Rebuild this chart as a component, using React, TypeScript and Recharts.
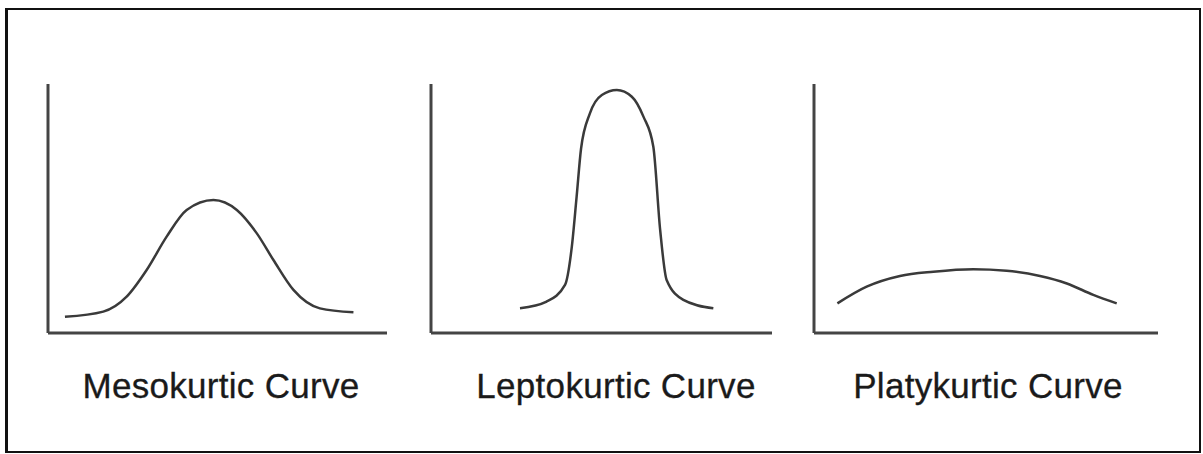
import React from "react";
import { LineChart, Line, XAxis, YAxis } from "recharts";

// curve points, x and y in 0..100 of each plot box
const mesoX = [5.0, 16.3, 23.2, 29.1, 35.0, 40.9, 48.8, 55.7, 61.6, 66.5, 72.4, 80.2, 90.1];
const mesoY = [6.5, 8.6, 14.6, 25.3, 38.7, 49.4, 53.4, 49.4, 40.0, 29.3, 17.3, 9.9, 8.3];

const leptoX = [26.1, 33.9, 39.3, 41.3, 42.7, 44.0, 46.6, 50.1, 54.5, 58.9, 62.3, 65.2, 67.2, 69.1, 74.0, 82.8];
const leptoY = [9.9, 12.6, 19.3, 34.7, 54.7, 74.0, 88.2, 95.6, 97.6, 94.9, 86.9, 74.8, 41.4, 21.3, 13.3, 9.9];

const platyX = [6.8, 15.3, 25.0, 34.7, 46.3, 56.0, 65.7, 73.5, 81.2, 88.0];
const platyY = [11.9, 18.6, 22.9, 24.6, 25.6, 25.0, 22.9, 19.9, 15.3, 11.9];

const labels = ["Mesokurtic Curve", "Leptokurtic Curve", "Platykurtic Curve"];

const toRows = (xs: number[], ys: number[]) => xs.map((x, i) => ({ x, y: ys[i] }));

const panels = [
  { rows: toRows(mesoX, mesoY), left: 48, right: 387, labelX: 221 },
  { rows: toRows(leptoX, leptoY), left: 431, right: 772, labelX: 616 },
  { rows: toRows(platyX, platyY), left: 814, right: 1158, labelX: 988 },
];

const PAD = 5;
const TOP = 84;
const BOTTOM = 333;
const axisStyle = { stroke: "#444", strokeWidth: 3 };

const Panel = ({ rows, left, right }: { rows: { x: number; y: number }[]; left: number; right: number }) => (
  <div style={{ position: "absolute", left: left - PAD, top: TOP - PAD }}>
    <LineChart
      width={right - left + PAD * 2}
      height={BOTTOM - TOP + PAD * 2}
      data={rows}
      margin={{ top: PAD, right: PAD, bottom: PAD - 1, left: PAD - 1 }}
    >
      <XAxis dataKey="x" type="number" domain={[0, 100]} height={1} tick={false} tickLine={false} axisLine={axisStyle} />
      <YAxis type="number" domain={[0, 100]} width={1} tick={false} tickLine={false} axisLine={axisStyle} />
      <Line
        dataKey="y"
        type="monotone"
        stroke="#3a3a3a"
        strokeWidth={2.5}
        dot={false}
        isAnimationActive={false}
      />
    </LineChart>
  </div>
);

export default function App() {
  return (
    <div style={{ position: "absolute", left: 0, top: 0, width: 1203, height: 454, background: "#fff" }}>
      <div
        style={{
          position: "absolute",
          left: 5,
          top: 8,
          width: 1196,
          height: 445,
          boxSizing: "border-box",
          border: "2px solid #111",
          borderLeft: "3px solid #111",
        }}
      />
      {panels.map((p, i) => (
        <Panel key={i} rows={p.rows} left={p.left} right={p.right} />
      ))}
      {panels.map((p, i) => (
        <div
          key={"l" + i}
          style={{
            position: "absolute",
            left: p.labelX - 200,
            width: 400,
            top: 369,
            textAlign: "center",
            fontFamily: "'Liberation Sans', Arial, sans-serif",
            fontSize: 35,
            letterSpacing: 0.3,
            lineHeight: "34px",
            color: "#1a1a1a",
            WebkitTextStroke: "0.3px #1a1a1a",
          }}
        >
          {labels[i]}
        </div>
      ))}
    </div>
  );
}
